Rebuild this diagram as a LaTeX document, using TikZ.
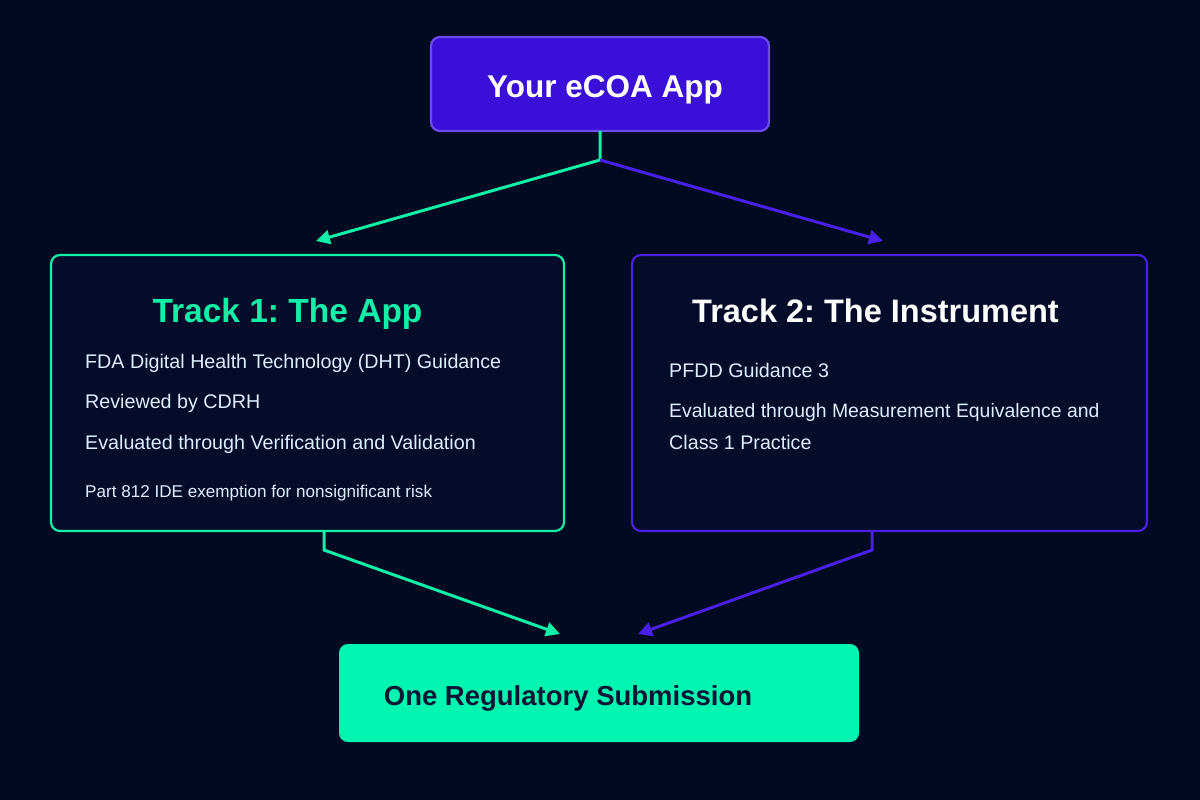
\documentclass[tikz,border=0pt]{standalone}
\usepackage{fontspec}
\setmainfont{Liberation Sans}
\frenchspacing
\usetikzlibrary{arrows.meta}
\definecolor{bg}{HTML}{020A22}
\definecolor{grn}{HTML}{12F0A8}
\definecolor{grnfill}{HTML}{00F5B0}
\definecolor{pur}{HTML}{4A1FE6}
\definecolor{purfill}{HTML}{3A10D9}
\definecolor{boxfill}{HTML}{050C2A}
\definecolor{bodytxt}{HTML}{DCEEFF}
\definecolor{navy}{HTML}{0A1633}
\tikzset{
  box/.style={rounded corners=9pt, line width=2.2pt},
  conn/.style={line width=3pt, -{Triangle[length=14pt,width=14pt]}},
  bodyt/.style={anchor=base west, inner sep=0pt, text=bodytxt, font=\fontsize{19.7}{22}\selectfont},
  smallt/.style={anchor=base west, inner sep=0pt, text=bodytxt, font=\fontsize{17.1}{20}\selectfont},
  titlet/.style={anchor=base, inner sep=0pt, font=\bfseries\fontsize{32.5}{36}\selectfont},
}
\begin{document}
\begin{tikzpicture}[x=1pt,y=-1pt]
\fill[bg] (0,0) rectangle (1200,800);
\useasboundingbox (0,0) rectangle (1200,800);
% boxes
\draw[box, draw=pur!80!white, fill=purfill] (431,37) rectangle (769,131);
\node (top) at (600,84) [minimum width=338pt, minimum height=94pt] {};
\node[titlet, text=white, font=\bfseries\fontsize{31.5}{36}\selectfont] at (605,97) {Your eCOA App};

\draw[box, draw=grn, fill=boxfill] (51,255) rectangle (564,531);
\node (left) at (307.5,393) [minimum width=513pt, minimum height=276pt] {};
\node[titlet, text=grn, font=\bfseries\fontsize{33.5}{36}\selectfont] at (287.5,322) {Track 1: The App};
\node[bodyt] (l1) at (85,368) {FDA Digital Health Technology (DHT) Guidance};
\node[bodyt] (l2) at (85,408) {Reviewed by CDRH};
\node[bodyt] (l3) at (85,449) {Evaluated through Verification and Validation};
\node[smallt] (l4) at (85,497) {Part 812 IDE exemption for nonsignificant risk};

\draw[box, draw=pur, fill=boxfill] (632,255) rectangle (1147,531);
\node (right) at (889.5,393) [minimum width=515pt, minimum height=276pt] {};
\node[titlet, text=white] at (875.5,322) {Track 2: The Instrument};
\node[bodyt] (r1) at (669,377) {PFDD Guidance 3};
\node[bodyt, font=\fontsize{19.4}{22}\selectfont] (r2) at (669,417) {Evaluated through Measurement Equivalence and};
\node[bodyt] (r3) at (669,449) {Class 1 Practice};

\draw[rounded corners=9pt, fill=grnfill, draw=none] (339,644) rectangle (859,742);
\node (bot) at (599,693) [minimum width=520pt, minimum height=98pt] {};
\node[titlet, text=navy, font=\bfseries\fontsize{27.5}{32}\selectfont] at (568,705) {One Regulatory Submission};

% connectors
\coordinate (split) at (600,160);
\coordinate (lt) at (316,241);
\coordinate (rt) at (883,241);
\coordinate (lb) at (324,550);
\coordinate (rb) at (872,550);
\coordinate (bl) at (560,634);
\coordinate (br) at (638,634);
\draw[conn, draw=grn] (top.south) -- (split) -- (lt);
\draw[conn, draw=pur] (split) -- (rt);
\draw[conn, draw=grn] (left.south -| lb) -- (lb) -- (bl);
\draw[conn, draw=pur] (right.south -| rb) -- (rb) -- (br);
\end{tikzpicture}
\end{document}
